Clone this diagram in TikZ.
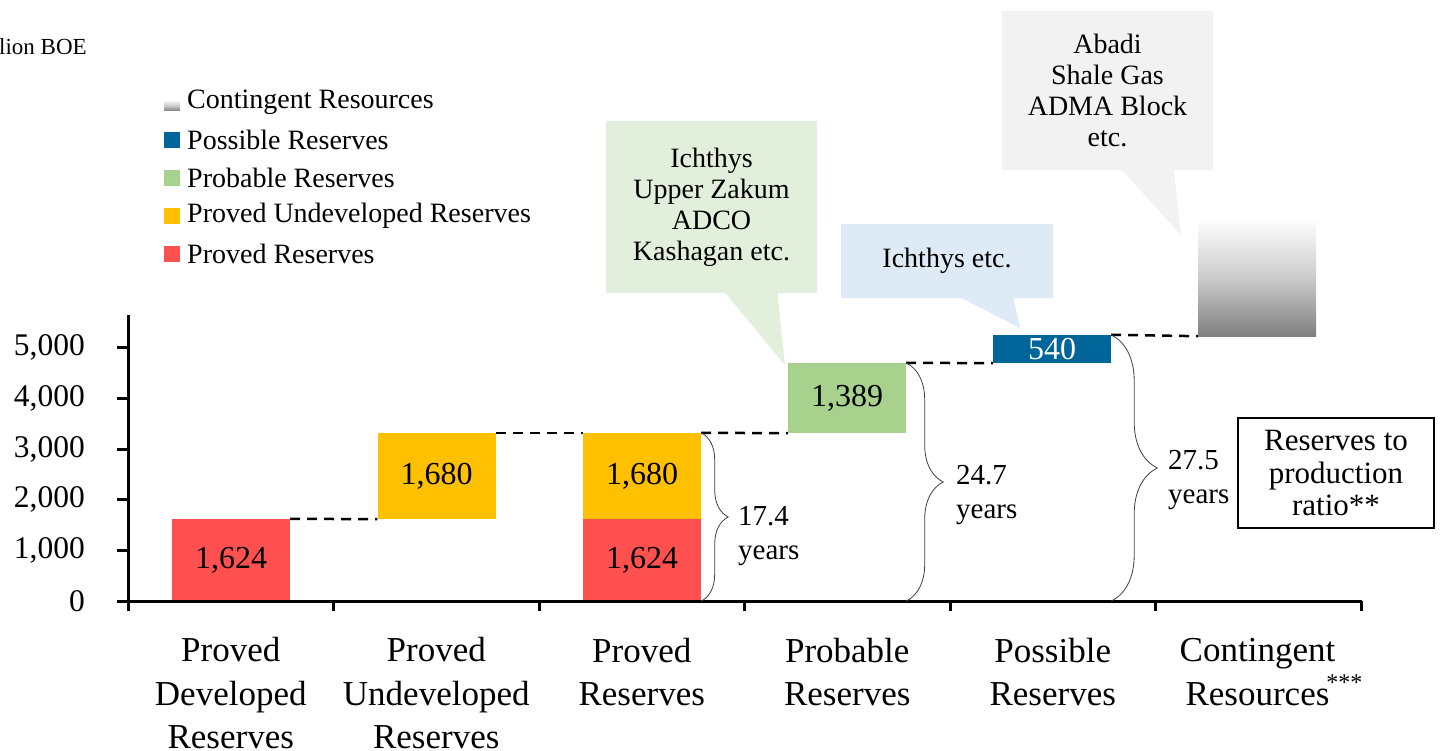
\documentclass[tikz,border=0pt]{standalone}
\usepackage{fontspec}
\setmainfont{Liberation Serif}
\usetikzlibrary{shapes.callouts,decorations.pathreplacing,calc}
\definecolor{cRed}{HTML}{FF5050}
\definecolor{cYel}{HTML}{FFC000}
\definecolor{cGrn}{HTML}{A9D18E}
\definecolor{cBlu}{HTML}{006699}
\definecolor{kGrn}{HTML}{E2EFDA}
\definecolor{kBlu}{HTML}{DEEBF7}
\definecolor{kGry}{HTML}{F2F2F2}
\definecolor{brc}{HTML}{404040}
\newcommand\myfs[2]{\fontsize{#1}{#2}\selectfont}
\begin{document}
\begin{tikzpicture}[x=1pt,y=-1pt,
  bar/.style={minimum width=118pt,inner sep=0pt,font=\myfs{32}{36},text=black},
  grad/.style={top color=white,bottom color=black!50,middle color=black!20},
  link/.style={line width=2.5pt,dash pattern=on 10pt off 7pt},
  axis/.style={line width=3pt},
  bracel/.style={draw=brc,line width=0.8pt,decorate,decoration={brace,amplitude=#1,aspect=0.5}},
  ylab/.style={anchor=east,inner sep=0pt,font=\myfs{31.5}{36}},
  xlab/.style={align=center,inner sep=0pt,font=\myfs{35}{43.5}},
  legsq/.style={minimum width=16pt,minimum height=16pt,inner sep=0pt},
  legtxt/.style={anchor=west,inner sep=0pt,font=\myfs{28}{32}},
  yrs/.style={anchor=west,align=left,inner sep=0pt,font=\myfs{29}{34}},
  note/.style={rectangle callout,inner sep=0pt,align=center,font=\myfs{28}{31},
    minimum width=211pt,callout pointer width=52pt}
]
\useasboundingbox (0,0) rectangle (1442,751);

% unit label
\node[anchor=west,inner sep=0pt,font=\myfs{23}{26}] (unit) at (-1,47) {lion BOE};

% legend
\node[legsq,grad,minimum height=11pt] (l1) at (172,105.5) {};
\node[legsq,fill=cBlu] (l2) at (172,140) {};
\node[legsq,fill=cGrn] (l3) at (172,178) {};
\node[legsq,fill=cYel] (l4) at (172,216) {};
\node[legsq,fill=cRed] (l5) at (172,254.5) {};
\node[legtxt] (lt1) at (187,102) {Contingent Resources};
\node[legtxt] (lt2) at (187,140) {Possible Reserves};
\node[legtxt] (lt3) at (187,178) {Probable Reserves};
\node[legtxt] (lt4) at (187,216) {Proved Undeveloped Reserves};
\node[legtxt] (lt5) at (187,254) {Proved Reserves};

% bars
\node[bar,fill=cRed,minimum height=82pt] (b1) at (231,560) {1,624};
\node[bar,fill=cYel,minimum height=86pt] (b2) at (436.5,476) {1,680};
\node[bar,fill=cRed,minimum height=82pt] (b3a) at (642,560) {1,624};
\node[bar,fill=cYel,minimum height=86pt] (b3b) at (642,476) {1,680};
\node[bar,fill=cGrn,minimum height=70pt] (b4) at (847,398) {1,389};
\node[bar,fill=cBlu,minimum height=28pt,text=white] (b5) at (1052,349) {540};
\node[bar,grad,minimum height=118pt] (b6) at (1257,277) {};

% callouts
\node[note,fill=kGrn,minimum height=172pt,callout absolute pointer={(785,365)}] (c1) at (711.5,207)
  {Ichthys\\Upper Zakum\\ADCO\\Kashagan etc.};
\node[note,fill=kBlu,minimum width=212pt,minimum height=74pt,callout absolute pointer={(1020,328)}] (c2) at (947,261)
  {Ichthys etc.};
\node[note,fill=kGry,minimum height=159pt,callout absolute pointer={(1181,235)}] (c3) at (1107.5,90.5)
  {Abadi\\Shale Gas\\ADMA Block\\etc.};

% dashed links
\draw[link] (b1.north east) -- (b2.south west);
\draw[link] (b2.north east) -- (b3b.north west);
\draw[link] (b3b.north east) -- (b4.south west);
\draw[link] (b4.north east) -- (b5.south west);
\draw[link] (b5.north east) -- (b6.south west);

% axes
\draw[axis] (128,315) -- (128,601);
\draw[axis] (126.5,601) -- (1362,601);
\foreach \v/\y in {0/601,1/550,2/499.5,3/449,4/398,5/347.5}{
  \draw[axis] (117,\y) -- (128,\y);
}
\foreach \k in {0,...,6}{
  \draw[axis] ({128+205.5*\k},601) -- ({128+205.5*\k},611);
}
\node[ylab] (y0) at (85,601) {0};
\node[ylab] (y1) at (85,550) {1,000};
\node[ylab] (y2) at (85,499.5) {2,000};
\node[ylab] (y3) at (85,449) {3,000};
\node[ylab] (y4) at (85,398) {4,000};
\node[ylab] (y5) at (85,347.5) {5,000};

% category labels
\node[xlab] (x1) at (230.75,693.5) {Proved\\Developed\\Reserves};
\node[xlab] (x2) at (436.25,693.5) {Proved\\Undeveloped\\Reserves};
\node[xlab] (x3) at (641.75,672) {Proved\\Reserves};
\node[xlab] (x4) at (847.25,672) {Probable\\Reserves};
\node[xlab] (x5) at (1052.75,672) {Possible\\Reserves};
\node[xlab] (x6) at (1257.5,672) {Contingent\\Resources\rlap{\kern-3pt\raisebox{15pt}{\myfs{24}{24}***}}};

% braces
\draw[bracel=27pt] (b3b.north east) -- (b3a.south east);
\draw[bracel=37pt] (b4.north east) -- (b4.north east |- b3a.south east);
\draw[bracel=46pt] (b5.north east) -- (b5.north east |- b3a.south east);
\node[yrs] (r1) at (738,536) {17.4\\years};
\node[yrs] (r2) at (956,495) {24.7\\years};
\node[yrs] (r3) at (1168,480) {27.5\\years};

% ratio box
\node[draw,line width=2pt,minimum width=196pt,minimum height=110pt,align=center,inner sep=0pt,
  font=\myfs{31}{32.5}] (ratio) at (1336,473) {Reserves to\\production\\ratio**};
\end{tikzpicture}
\end{document}
